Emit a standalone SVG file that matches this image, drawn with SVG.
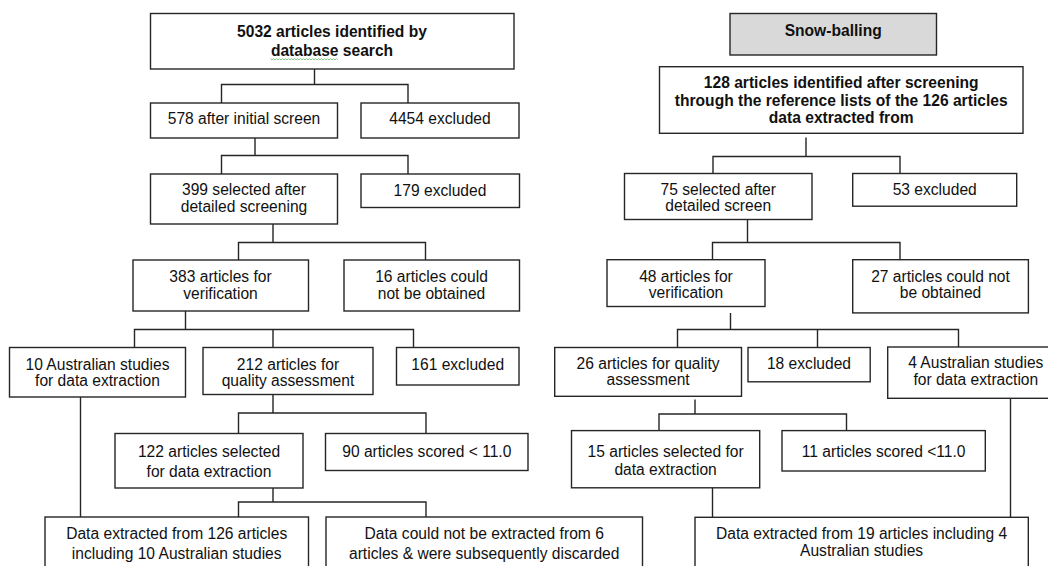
<svg xmlns="http://www.w3.org/2000/svg" width="1048" height="566" viewBox="0 0 1048 566">
<style>
.b{fill:#ffffff;stroke:#262626;stroke-width:1.4}
.g{fill:#d9d9d9;stroke:#262626;stroke-width:1.4}
.t{font-family:"Liberation Sans",Arial,sans-serif;font-size:15.6px;fill:#111;text-anchor:middle}
.tb{font-family:"Liberation Sans",Arial,sans-serif;font-size:15.6px;font-weight:bold;fill:#111;text-anchor:middle}
.c{fill:none;stroke:#262626;stroke-width:1.4}
</style>
<rect width="1048" height="566" fill="#ffffff"/>
<g id="connectors">
<path class="c" d="M314.5,69 V84.5 M221.5,103 V84.5 H408 V103"/>
<path class="c" d="M255,138 V155.5 M221.5,174 V155.5 H408 V174"/>
<path class="c" d="M273,224 V242.5 M238.5,260 V242.5 H425.5 V260"/>
<path class="c" d="M185.5,311 V329.5 M134.5,347.5 V329.5 H413.5 V347.5 M273,329.5 V347.5"/>
<path class="c" d="M80.5,397 V517"/>
<path class="c" d="M273,394.5 V413 M238.5,433.5 V413 H426 V433.5"/>
<path class="c" d="M273,488 V502 M238.5,517 V502 H426 V517"/>
<path class="c" d="M806,137.5 V156.5 M713,173.5 V156.5 H900 V173.5"/>
<path class="c" d="M747.5,219.5 V242.5 M712.5,259.5 V242.5 H900 V259.5"/>
<path class="c" d="M730.5,313 V329.5 M677.5,347.5 V329.5 H958.5 V347.5 M817.5,329.5 V347.5"/>
<path class="c" d="M695,399.5 V414 M659,430.5 V414 H846.5 V430.5"/>
<path class="c" d="M712.5,488 V517.5"/>
<path class="c" d="M1010.5,398.5 V517.5"/>
</g>
<g id="n_search">
<rect class="b" x="150.5" y="13.5" width="363.5" height="55.5"/>
<text class="tb" x="332" y="36.5">5032 articles identified by</text>
<text class="tb" x="332" y="55.8">database search</text>
<path d="M270.5,58.5 l1.5,1.5 l1.5,-1.5 l1.5,1.5 l1.5,-1.5 l1.5,1.5 l1.5,-1.5 l1.5,1.5 l1.5,-1.5 l1.5,1.5 l1.5,-1.5 l1.5,1.5 l1.5,-1.5 l1.5,1.5 l1.5,-1.5 l1.5,1.5 l1.5,-1.5 l1.5,1.5 l1.5,-1.5 l1.5,1.5 l1.5,-1.5 l1.5,1.5 l1.5,-1.5 l1.5,1.5 l1.5,-1.5 l1.5,1.5 l1.5,-1.5 l1.5,1.5 l1.5,-1.5 l1.5,1.5 l1.5,-1.5 l1.5,1.5 l1.5,-1.5 l1.5,1.5 l1.5,-1.5 l1.5,1.5 l1.5,-1.5 l1.5,1.5 l1.5,-1.5 l1.5,1.5 l1.5,-1.5 l1.5,1.5 l1.5,-1.5 l1.5,1.5 l1.5,-1.5 l1.5,1.5" fill="none" stroke="#5fbf5f" stroke-width="0.8"/>
</g>
<g id="n_578">
<rect class="b" x="150.5" y="103" width="187" height="35"/>
<text class="t" x="244" y="124.4">578 after initial screen</text>
</g>
<g id="n_4454">
<rect class="b" x="361" y="103" width="158" height="35"/>
<text class="t" x="440" y="124.4">4454 excluded</text>
</g>
<g id="n_399">
<rect class="b" x="150.5" y="174" width="187" height="50"/>
<text class="t" x="244" y="195">399 selected after</text>
<text class="t" x="244" y="211.5">detailed screening</text>
</g>
<g id="n_179">
<rect class="b" x="361" y="174" width="158.5" height="33.5"/>
<text class="t" x="440" y="196">179 excluded</text>
</g>
<g id="n_383">
<rect class="b" x="133" y="260" width="175.5" height="51"/>
<text class="t" x="220.5" y="282">383 articles for</text>
<text class="t" x="220.5" y="299">verification</text>
</g>
<g id="n_16">
<rect class="b" x="344" y="260" width="175.5" height="51"/>
<text class="t" x="431.5" y="282">16 articles could</text>
<text class="t" x="431.5" y="299">not be obtained</text>
</g>
<g id="n_10aus">
<rect class="b" x="9.5" y="347.5" width="176" height="49.5"/>
<text class="t" x="97.5" y="369.5">10 Australian studies</text>
<text class="t" x="97.5" y="385.5">for data extraction</text>
</g>
<g id="n_212">
<rect class="b" x="203" y="347.5" width="170" height="47"/>
<text class="t" x="288" y="369.5">212 articles for</text>
<text class="t" x="288" y="385.5">quality assessment</text>
</g>
<g id="n_161">
<rect class="b" x="396.5" y="347.5" width="122.5" height="37.5"/>
<text class="t" x="457.7" y="370">161 excluded</text>
</g>
<g id="n_122">
<rect class="b" x="115" y="433.5" width="188" height="54.5"/>
<text class="t" x="209" y="457">122 articles selected</text>
<text class="t" x="209" y="477">for data extraction</text>
</g>
<g id="n_90">
<rect class="b" x="325.5" y="433.5" width="202.5" height="37"/>
<text class="t" x="426.8" y="457">90 articles scored &lt; 11.0</text>
</g>
<g id="n_final_left">
<rect class="b" x="45" y="517" width="263.5" height="63"/>
<text class="t" x="176.7" y="539.3">Data extracted from 126 articles</text>
<text class="t" x="176.7" y="559.3">including 10 Australian studies</text>
</g>
<g id="n_discarded">
<rect class="b" x="326" y="517" width="316.5" height="63"/>
<text class="t" x="484.2" y="539.3">Data could not be extracted from 6</text>
<text class="t" x="484.2" y="559.3">articles &amp; were subsequently discarded</text>
</g>
<g id="n_snow">
<rect class="g" x="730" y="13.5" width="206.5" height="41.5"/>
<text class="tb" x="833.2" y="36.4">Snow-balling</text>
</g>
<g id="n_128">
<rect class="b" x="659.5" y="66.7" width="363.5" height="66.6"/>
<text class="tb" x="841.2" y="88.2">128 articles identified after screening</text>
<text class="tb" x="841.2" y="105.5">through the reference lists of the 126 articles</text>
<text class="tb" x="841.2" y="122.9">data extracted from</text>
</g>
<g id="n_75">
<rect class="b" x="624.5" y="173.5" width="187.5" height="46"/>
<text class="t" x="718.2" y="195.3">75 selected after</text>
<text class="t" x="718.2" y="211">detailed screen</text>
</g>
<g id="n_53">
<rect class="b" x="852.7" y="173.5" width="164" height="32.7"/>
<text class="t" x="934.7" y="195.3">53 excluded</text>
</g>
<g id="n_48">
<rect class="b" x="607" y="259.7" width="158" height="46.8"/>
<text class="t" x="686" y="281.6">48 articles for</text>
<text class="t" x="686" y="298.4">verification</text>
</g>
<g id="n_27">
<rect class="b" x="852.7" y="259.7" width="175.7" height="53.2"/>
<text class="t" x="940.5" y="281.6">27 articles could not</text>
<text class="t" x="940.5" y="298.4">be obtained</text>
</g>
<g id="n_26">
<rect class="b" x="554.7" y="347.5" width="186.8" height="48.8"/>
<text class="t" x="648.1" y="369">26 articles for quality</text>
<text class="t" x="648.1" y="385">assessment</text>
</g>
<g id="n_18">
<rect class="b" x="748" y="347.5" width="122.2" height="34.3"/>
<text class="t" x="809" y="369">18 excluded</text>
</g>
<g id="n_4aus">
<rect class="b" x="887.7" y="347" width="176.3" height="51.3"/>
<text class="t" x="975.8" y="368">4 Australian studies</text>
<text class="t" x="975.8" y="385">for data extraction</text>
</g>
<g id="n_15">
<rect class="b" x="571.5" y="430.6" width="188.2" height="57.2"/>
<text class="t" x="665.6" y="457">15 articles selected for</text>
<text class="t" x="665.6" y="474.5">data extraction</text>
</g>
<g id="n_11">
<rect class="b" x="782" y="430.6" width="203.3" height="40.4"/>
<text class="t" x="883.6" y="457">11 articles scored &lt;11.0</text>
</g>
<g id="n_final_right">
<rect class="b" x="695" y="517.3" width="333.3" height="63"/>
<text class="t" x="861.6" y="539">Data extracted from 19 articles including 4</text>
<text class="t" x="861.6" y="556">Australian studies</text>
</g>
</svg>
